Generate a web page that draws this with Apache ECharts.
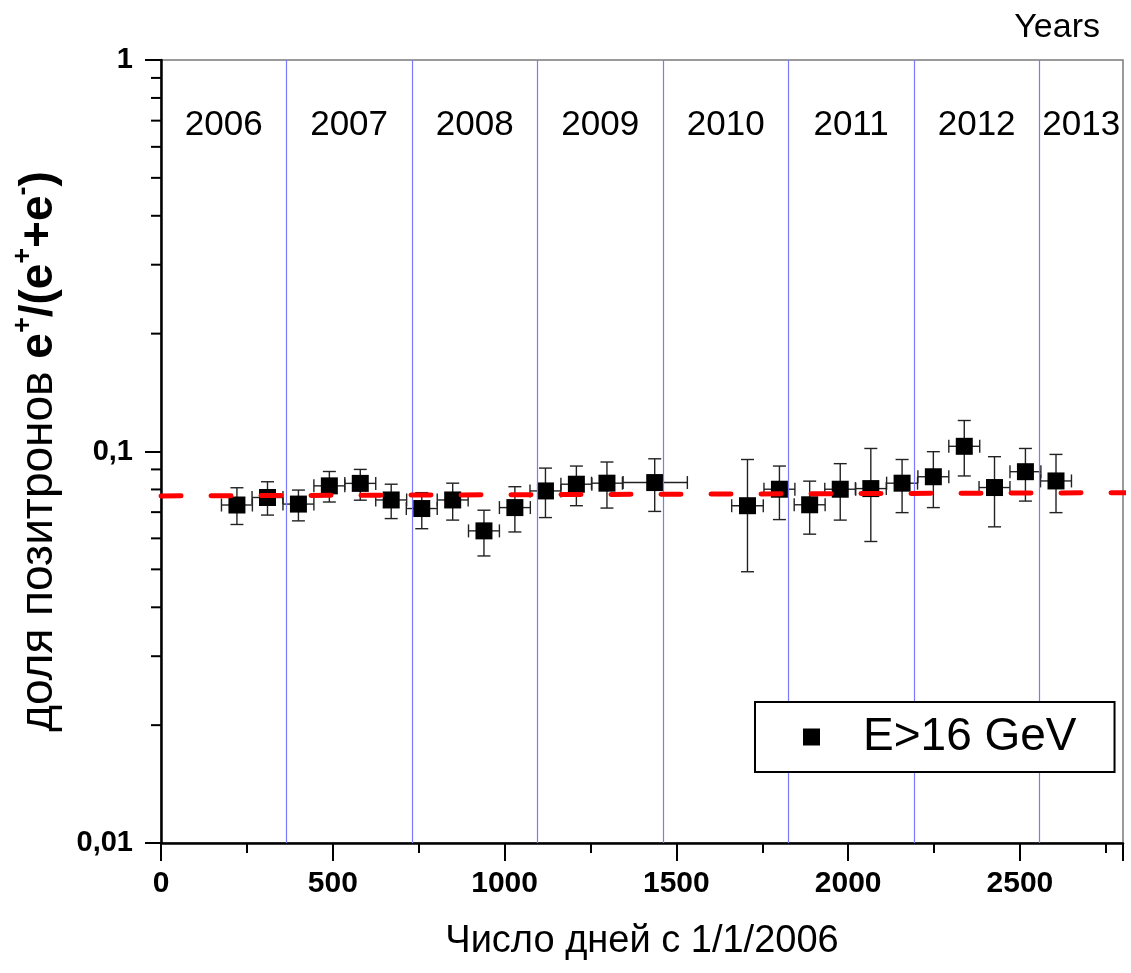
<!DOCTYPE html>
<html>
<head>
<meta charset="utf-8">
<script src="https://cdn.jsdelivr.net/npm/echarts@6/dist/echarts.min.js"></script>
<style>html,body{margin:0;padding:0;background:#fff}#c{width:1131px;height:973px}</style>
</head>
<body>
<div id="c"></div>
<script>
// ---- data ----
var days      = [221, 310, 400, 490, 580, 670, 759, 849, 940, 1030, 1119, 1209, 1298, 1437, 1707, 1800, 1888, 1977, 2066, 2157, 2248, 2338, 2426, 2516, 2605];
var ratio     = [0.0730, 0.0763, 0.0734, 0.0817, 0.0829, 0.0752, 0.0715, 0.0752, 0.0627, 0.0719, 0.0793, 0.0825, 0.0830, 0.0833, 0.0727, 0.0801, 0.0731, 0.0801, 0.0804, 0.0830, 0.0862, 0.1031, 0.0809, 0.0888, 0.0841];
var ratioHigh = [0.0808, 0.0837, 0.0797, 0.0889, 0.0900, 0.0825, 0.0785, 0.0830, 0.0708, 0.0813, 0.0907, 0.0918, 0.0940, 0.0958, 0.0954, 0.0918, 0.0840, 0.0931, 0.1018, 0.0954, 0.0999, 0.1200, 0.0970, 0.1018, 0.0983];
var ratioLow  = [0.0651, 0.0688, 0.0665, 0.0743, 0.0751, 0.0674, 0.0635, 0.0668, 0.0541, 0.0623, 0.0678, 0.0727, 0.0717, 0.0703, 0.0493, 0.0670, 0.0615, 0.0668, 0.0589, 0.0698, 0.0719, 0.0866, 0.0642, 0.0747, 0.0698];
var daysErrLeft  = [45, 45, 45, 45, 45, 45, 45, 45, 45, 45, 45, 45, 45, 92, 46, 45, 45, 45, 45, 45, 45, 45, 45, 45, 45];
var daysErrRight = [45, 45, 45, 45, 45, 45, 45, 45, 45, 45, 45, 45, 45, 95, 46, 45, 45, 45, 45, 45, 45, 45, 45, 45, 45];
var fitDays  = [0, 2820];
var fitRatio = [0.0770, 0.0785];
var years     = ['2006', '2007', '2008', '2009', '2010', '2011', '2012', '2013'];
var yearStart = [0, 365, 730, 1096, 1461, 1826, 2191, 2557];
var yMinorTicks = [0.02, 0.03, 0.04, 0.05, 0.06, 0.07, 0.08, 0.09, 0.2, 0.3, 0.4, 0.5, 0.6, 0.7, 0.8, 0.9];
var seriesName = 'E>16 GeV';

// ---- build ----
var XMAX = 2800;
var pts = days.map(function (d, i) { return [d, ratio[i]]; });
var errData = days.map(function (d, i) { return [d, ratio[i], ratioLow[i], ratioHigh[i], d - daysErrLeft[i], d + daysErrRight[i]]; });
var fitData = fitDays.map(function (d, i) { return [d, fitRatio[i]]; });
var yearLabelData = years.map(function (y, i) {
  var end = i + 1 < yearStart.length ? yearStart[i + 1] : XMAX;
  return { name: y, value: [(yearStart[i] + end) / 2, 0.68] };
});
var yearLines = yearStart.slice(1).map(function (d) { return { xAxis: d }; });

var FONT = '"Liberation Sans", Arial, sans-serif';
var chart = echarts.init(document.getElementById('c'), null, { renderer: 'canvas' });

chart.setOption({
  backgroundColor: '#fff',
  animation: false,
  title: {
    text: 'Years', right: 26, top: 6,
    textStyle: { fontFamily: FONT, fontSize: 34, fontWeight: 'normal', color: '#000' }
  },
  grid: {
    left: 161, top: 60, right: 8, bottom: 130,
    outerBoundsMode: 'none', containLabel: false,
    show: true, borderColor: '#7a7a7a', borderWidth: 1.5, backgroundColor: 'transparent'
  },
  legend: {
    left: 755, top: 702, z: 10,
    orient: 'horizontal',
    data: [seriesName],
    backgroundColor: '#fff',
    borderColor: '#000', borderWidth: 2, borderRadius: 0,
    padding: [12, 38, 12, 48],
    itemWidth: 17, itemHeight: 17,
    textStyle: { fontFamily: FONT, fontSize: 46, color: '#000', padding: [0, 0, 0, 38], lineHeight: 46 }
  },
  xAxis: {
    type: 'value', min: 0, max: XMAX, interval: 500,
    axisLine: { show: true, onZero: false, lineStyle: { color: '#000', width: 2.5 } },
    axisTick: { show: true, inside: false, length: 18, lineStyle: { color: '#000', width: 2 } },
    minorTick: { show: true, splitNumber: 2, length: 10, lineStyle: { color: '#000', width: 2 } },
    splitLine: { show: false },
    axisLabel: {
      fontFamily: FONT, fontSize: 30, fontWeight: 'bold', color: '#000', margin: 26,
      showMaxLabel: false,
      formatter: function (v) { return String(v); }
    },
    name: 'Число дней с 1/1/2006',
    nameLocation: 'middle', nameGap: 80,
    nameTextStyle: { fontFamily: FONT, fontSize: 38, color: '#000' }
  },
  yAxis: {
    type: 'log', logBase: 10, min: 0.01, max: 1,
    axisLine: { show: true, onZero: false, lineStyle: { color: '#000', width: 2.5 } },
    axisTick: { show: true, inside: false, length: 16, lineStyle: { color: '#000', width: 2 } },
    splitLine: { show: false },
    axisLabel: {
      fontFamily: FONT, fontSize: 29, fontWeight: 'bold', color: '#000', margin: 28,
      formatter: function (v) { return String(+v.toPrecision(3)).replace('.', ','); }
    },
    name: '{n|доля позитронов }{b|e}{s|+}{b|/(e}{s|+}{b|+e}{s|-}{b|)}',
    nameLocation: 'middle', nameGap: 99, nameRotate: 90,
    nameTextStyle: {
      fontFamily: FONT, color: '#000',
      rich: {
        n: { fontFamily: FONT, fontSize: 46, color: '#000', lineHeight: 52, verticalAlign: 'bottom' },
        b: { fontFamily: FONT, fontSize: 46, fontWeight: 'bold', color: '#000', lineHeight: 52, verticalAlign: 'bottom' },
        s: { fontFamily: FONT, fontSize: 27, fontWeight: 'bold', color: '#000', lineHeight: 52, verticalAlign: 'top' }
      }
    }
  },
  series: [
    {
      name: 'yearLines', type: 'line', data: [], silent: true,
      markLine: {
        silent: true, symbol: 'none', animation: false,
        label: { show: false },
        lineStyle: { color: '#7a7aff', width: 1.2, type: 'solid', opacity: 1 },
        data: yearLines
      }
    },
    {
      name: 'yearLabels', type: 'scatter', symbolSize: 0, silent: true,
      data: yearLabelData,
      itemStyle: { opacity: 1 },
      label: {
        show: true, position: 'inside', formatter: '{b}',
        fontFamily: FONT, fontSize: 35, color: '#000', opacity: 1
      }
    },
    {
      name: 'minorTicks', type: 'custom', clip: false, silent: true,
      data: yMinorTicks.map(function (v) { return [0, v]; }),
      renderItem: function (params, api) {
        var p = api.coord([0, api.value(1)]);
        return {
          type: 'line',
          shape: { x1: p[0] - 10, y1: p[1], x2: p[0], y2: p[1] },
          style: { stroke: '#000', lineWidth: 2 }
        };
      }
    },
    {
      name: 'errors', type: 'custom', silent: true, z: 3,
      data: errData,
      encode: { x: [0, 4, 5], y: [1, 2, 3] },
      renderItem: function (params, api) {
        var c = api.coord([api.value(0), api.value(1)]);
        var lo = api.coord([api.value(0), api.value(2)]);
        var hi = api.coord([api.value(0), api.value(3)]);
        var l = api.coord([api.value(4), api.value(1)]);
        var r = api.coord([api.value(5), api.value(1)]);
        var cap = 6.5;
        var st = { stroke: '#222', lineWidth: 1.4 };
        return {
          type: 'group',
          children: [
            { type: 'line', shape: { x1: c[0], y1: lo[1], x2: c[0], y2: hi[1] }, style: st },
            { type: 'line', shape: { x1: c[0] - cap, y1: lo[1], x2: c[0] + cap, y2: lo[1] }, style: st },
            { type: 'line', shape: { x1: c[0] - cap, y1: hi[1], x2: c[0] + cap, y2: hi[1] }, style: st },
            { type: 'line', shape: { x1: l[0], y1: c[1], x2: r[0], y2: c[1] }, style: st },
            { type: 'line', shape: { x1: l[0], y1: c[1] - cap, x2: l[0], y2: c[1] + cap }, style: st },
            { type: 'line', shape: { x1: r[0], y1: c[1] - cap, x2: r[0], y2: c[1] + cap }, style: st }
          ]
        };
      }
    },
    {
      name: seriesName, type: 'scatter', symbol: 'rect', symbolSize: 17, z: 4,
      itemStyle: { color: '#000', opacity: 1 },
      data: pts
    },
    {
      name: 'fit', type: 'line', clip: false, z: 5, silent: true,
      symbol: 'none', data: fitData,
      lineStyle: { color: '#ff0000', width: 5, type: [20, 30], cap: 'round', opacity: 1 }
    }
  ]
});
</script>
</body>
</html>
